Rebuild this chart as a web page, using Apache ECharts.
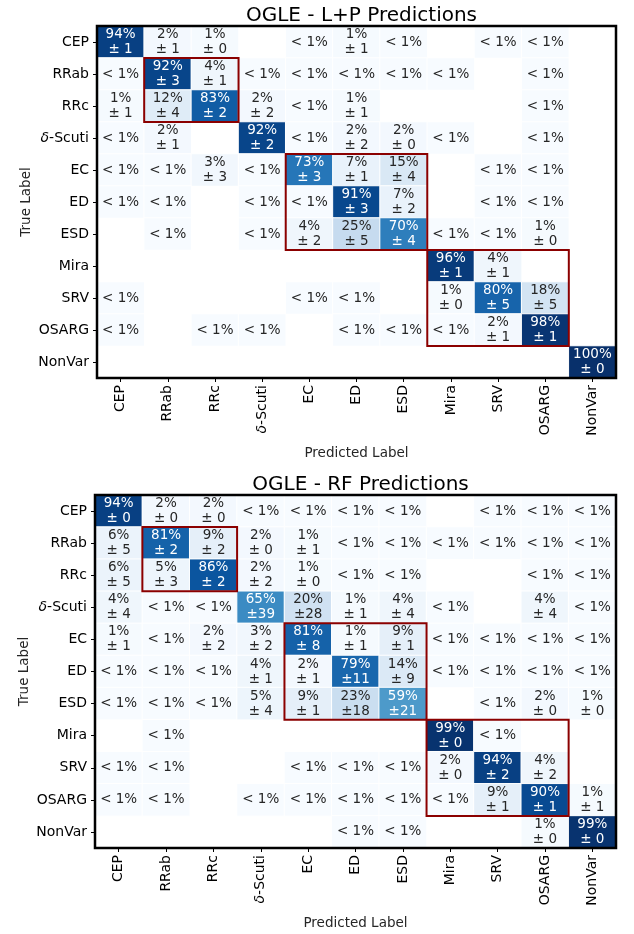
<!DOCTYPE html>
<html>
<head>
<meta charset="utf-8">
<script src="https://cdn.jsdelivr.net/npm/echarts@6/dist/echarts.min.js"></script>
<style>html,body{margin:0;background:#fff}#chart{width:634px;height:934px}</style>
</head>
<body>
<div id="chart"></div>
<script>
var N = null;
var classes = ['CEP', 'RRab', 'RRc', 'δ-Scuti', 'EC', 'ED', 'ESD', 'Mira', 'SRV', 'OSARG', 'NonVar'];

// mean %, rows = true class, cols = predicted. null = empty cell, 0 = "< 1%"
var lpMean = [
  [94, 2, 1, N, 0, 1, 0, N, 0, 0, N],
  [0, 92, 4, 0, 0, 0, 0, 0, N, 0, N],
  [1, 12, 83, 2, 0, 1, N, N, N, 0, N],
  [0, 2, N, 92, 0, 2, 2, 0, N, 0, N],
  [0, 0, 3, 0, 73, 7, 15, N, 0, 0, N],
  [0, 0, N, 0, 0, 91, 7, N, 0, 0, N],
  [N, 0, N, 0, 4, 25, 70, 0, 0, 1, N],
  [N, N, N, N, N, N, N, 96, 4, N, N],
  [0, N, N, N, 0, 0, N, 1, 80, 18, N],
  [0, N, 0, 0, N, 0, 0, 0, 2, 98, N],
  [N, N, N, N, N, N, N, N, N, N, 100]
];
var lpStd = [
  [1, 1, 0, N, N, 1, N, N, N, N, N],
  [N, 3, 1, N, N, N, N, N, N, N, N],
  [1, 4, 2, 2, N, 1, N, N, N, N, N],
  [N, 1, N, 2, N, 2, 0, N, N, N, N],
  [N, N, 3, N, 3, 1, 4, N, N, N, N],
  [N, N, N, N, N, 3, 2, N, N, N, N],
  [N, N, N, N, 2, 5, 4, N, N, 0, N],
  [N, N, N, N, N, N, N, 1, 1, N, N],
  [N, N, N, N, N, N, N, 0, 5, 5, N],
  [N, N, N, N, N, N, N, N, 1, 1, N],
  [N, N, N, N, N, N, N, N, N, N, 0]
];
var rfMean = [
  [94, 2, 2, 0, 0, 0, 0, N, 0, 0, 0],
  [6, 81, 9, 2, 1, 0, 0, 0, 0, 0, 0],
  [6, 5, 86, 2, 1, 0, 0, N, N, 0, 0],
  [4, 0, 0, 65, 20, 1, 4, 0, N, 4, 0],
  [1, 0, 2, 3, 81, 1, 9, 0, 0, 0, 0],
  [0, 0, 0, 4, 2, 79, 14, 0, 0, 0, 0],
  [0, 0, 0, 5, 9, 23, 59, N, 0, 2, 1],
  [N, 0, N, N, N, N, N, 99, 0, N, N],
  [0, 0, N, N, 0, 0, 0, 2, 94, 4, N],
  [0, 0, N, 0, 0, 0, 0, 0, 9, 90, 1],
  [N, N, N, N, N, 0, 0, N, N, 1, 99]
];
var rfStd = [
  [0, 0, 0, N, N, N, N, N, N, N, N],
  [5, 2, 2, 0, 1, N, N, N, N, N, N],
  [5, 3, 2, 2, 0, N, N, N, N, N, N],
  [4, N, N, 39, 28, 1, 4, N, N, 4, N],
  [1, N, 2, 2, 8, 1, 1, N, N, N, N],
  [N, N, N, 1, 1, 11, 9, N, N, N, N],
  [N, N, N, 4, 1, 18, 21, N, N, 0, 0],
  [N, N, N, N, N, N, N, 0, N, N, N],
  [N, N, N, N, N, N, N, 0, 2, 2, N],
  [N, N, N, N, N, N, N, N, 1, 1, 1],
  [N, N, N, N, N, N, N, N, N, 0, 0]
];
// boxed groups: [first class index, last class index]
var blocks = [[1, 2], [4, 6], [7, 9]];

var blues = ['#f7fbff', '#deebf7', '#c6dbef', '#9ecae1', '#6baed6', '#4292c6', '#2171b5', '#08519c', '#08306b'];
var font = 'DejaVu Sans';

var chart = echarts.init(document.getElementById('chart'));

function cellData(mean, std) {
  var out = [];
  for (var r = 0; r < mean.length; r++) {
    for (var c = 0; c < mean[r].length; c++) {
      if (mean[r][c] === null) continue;
      out.push({
        value: [c, r, mean[r][c], std[r][c]],
        label: {color: mean[r][c] > 50 ? '#ffffff' : '#262626'}
      });
    }
  }
  return out;
}

function cellText(p) {
  var m = p.value[2], s = p.value[3];
  if (m === 0) return '< 1%';
  return m + '%\n±' + (s < 10 ? ' ' + s : s);
}

function classLabel(v) {
  return v === 'δ-Scuti' ? '{i|δ}-Scuti' : v;
}

var panels = [
  {title: 'OGLE - L+P Predictions', mean: lpMean, std: lpStd, left: 97, top: 26, width: 519, height: 352},
  {title: 'OGLE - RF Predictions', mean: rfMean, std: rfStd, left: 95, top: 495, width: 521, height: 353}
];

var option = {
  animation: false,
  backgroundColor: '#fff',
  title: [], grid: [], xAxis: [], yAxis: [], series: [],
  visualMap: {
    show: false, type: 'continuous', min: 0, max: 100, dimension: 2,
    seriesIndex: [0, 2],
    inRange: {color: blues}
  }
};

panels.forEach(function (p, i) {
  option.title.push({
    text: p.title, left: p.left + p.width / 2, top: p.top - 25, textAlign: 'center',
    textStyle: {fontFamily: font, fontSize: 20, fontWeight: 'normal', color: '#000'}
  });
  option.grid.push({
    left: p.left, top: p.top, width: p.width, height: p.height,
    show: true, borderColor: '#000', borderWidth: 2.5, backgroundColor: 'transparent', z: 5
  });
  option.xAxis.push({
    type: 'category', gridIndex: i, data: classes, position: 'bottom',
    name: 'Predicted Label', nameLocation: 'middle', nameGap: 68,
    nameTextStyle: {fontFamily: font, fontSize: 13.5, color: '#262626'},
    axisLine: {show: false},
    axisTick: {show: true, alignWithLabel: true, length: 4, lineStyle: {color: '#000'}},
    axisLabel: {
      rotate: 90, margin: 7, interval: 0, fontFamily: font, fontSize: 14, color: '#000',
      formatter: classLabel,
      rich: {i: {fontStyle: 'italic', fontFamily: font, fontSize: 14, color: '#000'}}
    },
    splitLine: {show: false}
  });
  option.yAxis.push({
    type: 'category', gridIndex: i, data: classes, inverse: true,
    name: 'True Label', nameLocation: 'middle', nameGap: 64, nameRotate: 90,
    nameMoveOverlap: false,
    nameTextStyle: {fontFamily: font, fontSize: 13.5, color: '#262626'},
    axisLine: {show: false},
    axisTick: {show: true, alignWithLabel: true, length: 4, lineStyle: {color: '#000'}},
    axisLabel: {
      margin: 8, interval: 0, fontFamily: font, fontSize: 14, color: '#000',
      formatter: classLabel,
      rich: {i: {fontStyle: 'italic', fontFamily: font, fontSize: 14, color: '#000'}}
    },
    splitLine: {show: false}
  });
});

panels.forEach(function (p, i) {
  option.series.push({
    type: 'heatmap', xAxisIndex: i, yAxisIndex: i,
    data: cellData(p.mean, p.std),
    itemStyle: {borderColor: '#fff', borderWidth: 1},
    label: {show: true, formatter: cellText, fontFamily: font, fontSize: 13.5, lineHeight: 15},
    emphasis: {disabled: true}
  });
  option.series.push({
    type: 'custom', xAxisIndex: i, yAxisIndex: i, z: 4,
    data: blocks,
    renderItem: function (params, api) {
      var a = api.coord([api.value(0), api.value(0)]);
      var b = api.coord([api.value(1), api.value(1)]);
      var s = api.size([1, 1]);
      return {
        type: 'rect',
        shape: {x: a[0] - s[0] / 2, y: a[1] - s[1] / 2, width: b[0] - a[0] + s[0], height: b[1] - a[1] + s[1]},
        style: {fill: null, stroke: '#8b0000', lineWidth: 2}
      };
    }
  });
});
// series order: heatmap 0, custom 1, heatmap 2, custom 3

chart.setOption(option);
</script>
</body>
</html>
